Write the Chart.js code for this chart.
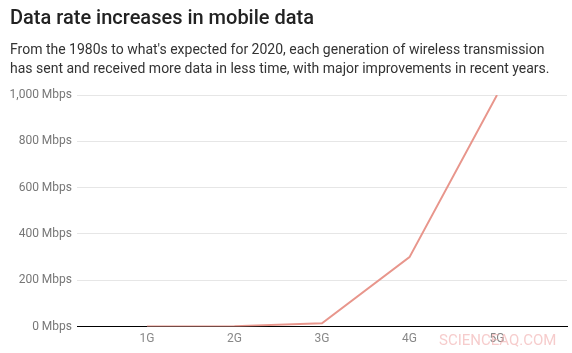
<!DOCTYPE html>
<html>
<head>
<meta charset="utf-8">
<script src="https://cdn.jsdelivr.net/npm/chart.js@4"></script>
<style>
html,body{margin:0;padding:0;background:#fff;}
#wrap{width:572px;height:353px;position:relative;}
</style>
</head>
<body>
<div id="wrap"><canvas id="c"></canvas></div>
<script>
const categories = ['1G', '2G', '3G', '4G', '5G'];
const rates = [0, 2, 14, 300, 1000];
const yTicks = [0, 200, 400, 600, 800, 1000];
const titleText = 'Data rate increases in mobile data';
const subtitleLines = [
  "From the 1980s to what's expected for 2020, each generation of wireless transmission",
  'has sent and received more data in less time, with major improvements in recent years.'
];
const watermark = 'SCIENCEAQ.COM';

const watermarkPlugin = {
  id: 'watermark',
  afterDraw(chart) {
    const ctx = chart.ctx;
    ctx.save();
    ctx.font = '15px Roboto';
    ctx.fillStyle = 'rgba(240,170,170,0.6)';
    ctx.textAlign = 'left';
    ctx.textBaseline = 'middle';
    ctx.fillText(watermark, 439, 341);
    ctx.restore();
  }
};

new Chart(document.getElementById('c'), {
  type: 'line',
  data: {
    datasets: [{
      data: categories.map((c, i) => ({x: i + 1, y: rates[i]})),
      borderColor: '#e8968c',
      borderWidth: 2,
      pointRadius: 0,
      tension: 0,
      fill: false
    }]
  },
  options: {
    responsive: true,
    maintainAspectRatio: false,
    animation: false,
    layout: {padding: {left: 10, right: 5, top: 0, bottom: 2}},
    plugins: {
      legend: {display: false},
      tooltip: {enabled: false},
      title: {
        display: true,
        text: titleText,
        align: 'start',
        color: '#222',
        font: {family: 'Roboto', size: 20, weight: '500'},
        padding: {top: 7, bottom: 10}
      },
      subtitle: {
        display: true,
        text: subtitleLines,
        align: 'start',
        color: '#333',
        font: {family: 'Roboto', size: 14, weight: 'normal', lineHeight: 1.36},
        padding: {top: 0, bottom: 16}
      }
    },
    scales: {
      x: {
        type: 'linear',
        min: 0.2,
        max: 5.8,
        afterBuildTicks: (axis) => { axis.ticks = categories.map((c, i) => ({value: i + 1})); },
        ticks: {
          callback: (v) => categories[Math.round(v) - 1] || '',
          color: '#888',
          font: {family: 'Roboto', size: 12},
          padding: 5,
          maxRotation: 0,
          autoSkip: false
        },
        grid: {display: false, drawTicks: false},
        border: {display: true, color: '#000', width: 1}
      },
      y: {
        min: 0,
        max: 1000,
        afterBuildTicks: (axis) => { axis.ticks = yTicks.map(v => ({value: v})); },
        afterFit: (axis) => { axis.width = 67; },
        ticks: {
          callback: (v) => v.toLocaleString('en-US') + ' Mbps',
          color: '#777',
          font: {family: 'Roboto', size: 12},
          padding: 5
        },
        grid: {
          drawTicks: false,
          color: (ctx) => (ctx.tick && ctx.tick.value === 0) ? '#000' : '#e6e6e6',
          lineWidth: 1
        },
        border: {display: false}
      }
    }
  },
  plugins: [watermarkPlugin]
});
</script>
</body>
</html>
